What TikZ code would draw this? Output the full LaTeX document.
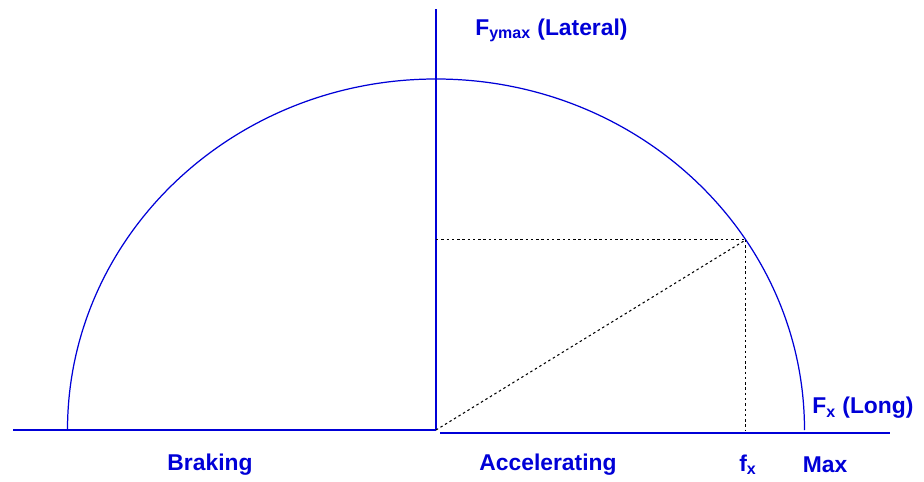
\documentclass[tikz,border=0pt]{standalone}
\usepackage{fontspec}
\setmainfont{Liberation Sans}
\usepackage{xcolor}
\definecolor{axisblue}{RGB}{0,0,215}
\usetikzlibrary{positioning,calc}

\begin{document}
\begin{tikzpicture}[x=0.02cm, y=0.02cm, node distance=0.3cm,
  lbl/.style={text=axisblue, font=\fontsize{13}{15}\selectfont\bfseries, inner sep=0pt},
  axis/.style={draw=axisblue, line width=1.1pt},
  guide/.style={draw=black, line width=0.6pt, dash pattern=on 1.4pt off 1.6pt}]
\useasboundingbox (0,0) rectangle (924,481);
% axes
\coordinate (O) at (436,51);
\coordinate (Oright) at (440,48);
\coordinate (yTop) at (436,472);
\coordinate (xLeft) at (13,51);
\coordinate (xRight) at (890,48);
\draw[axis] (xLeft) -- (O);
\draw[axis] (Oright) -- (xRight);
\draw[axis] (O) -- (yTop);
% friction ellipse
\coordinate (arcStart) at (67.5,51);
\draw[draw=axisblue, line width=0.7pt] (arcStart) arc[start angle=180, end angle=0, x radius=368.5, y radius=351];
% working point and its projections
\coordinate (P) at ($(O)+(32.8:368.5 and 351)$);
\coordinate (Px) at (O -| P);
\coordinate (Py) at (O |- P);
\draw[guide] (Py) -- (P);
\draw[guide] (P) -- (Px);
\draw[guide] (O) -- (P);
% labels
\node[lbl, anchor=west] (lateral) at (475,451) {F\textsubscript{ymax} (Lateral)};
\node[lbl, anchor=west] (long) at (812,73) {F\textsubscript{x} (Long)};
\node[lbl] (braking) at (210,16) {Braking};
\node[lbl] (accel) at (548,16) {Accelerating};
\node[lbl] (fx) at (748,16) {f\textsubscript{x}};
\node[lbl] (max) at (825,16) {Max};
\end{tikzpicture}
\end{document}
